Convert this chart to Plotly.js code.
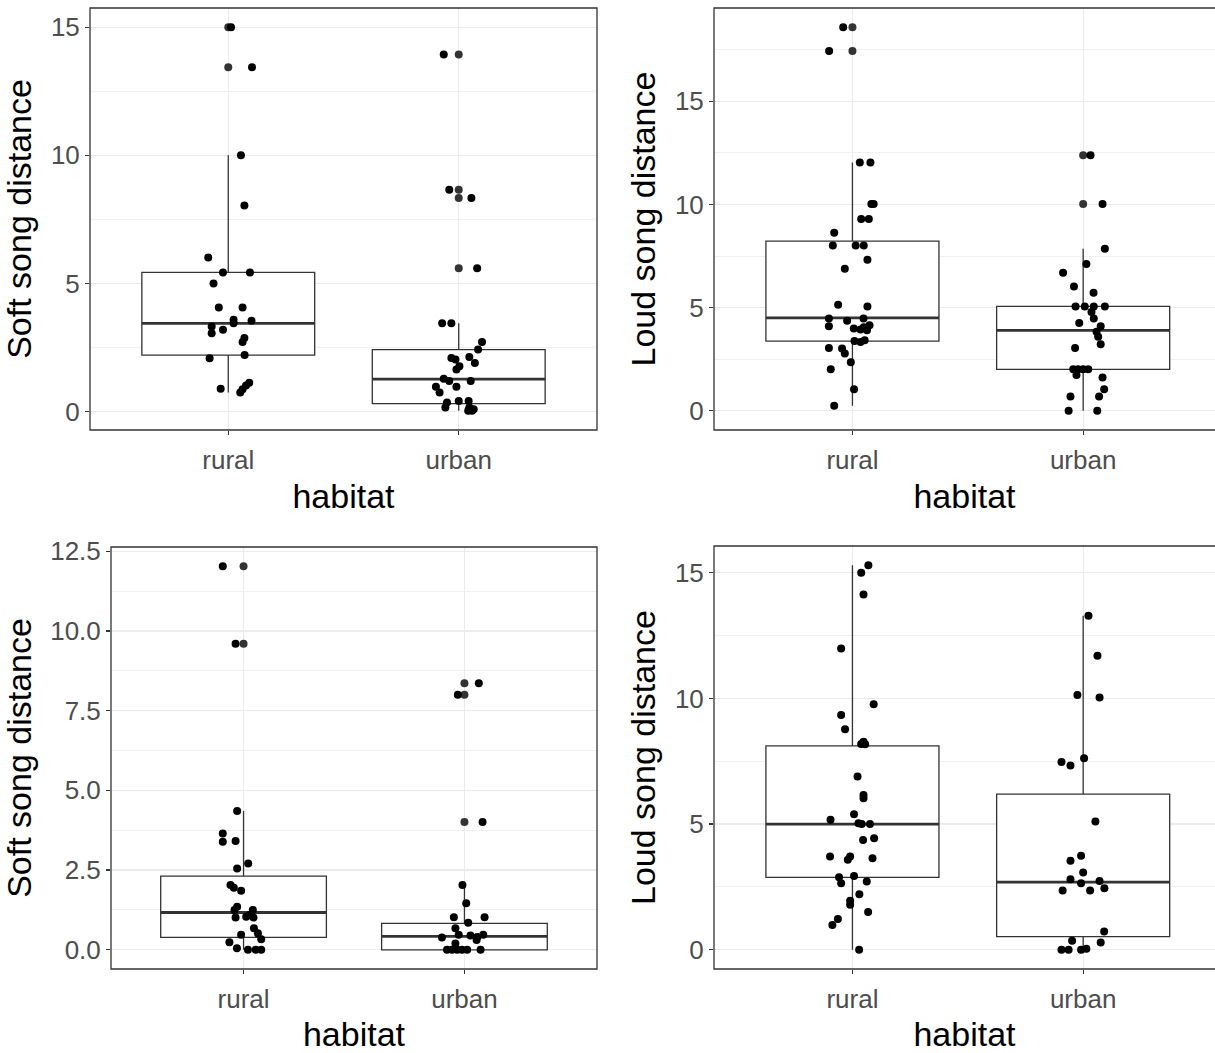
<!DOCTYPE html>
<html><head><meta charset="utf-8">
<script src="https://cdn.plot.ly/plotly-3.0.1.min.js"></script>
<style>html,body{margin:0;padding:0;background:#fff}#chart{width:1215px;height:1053px}</style>
</head><body><div id="chart"></div>
<script>
// ---------------- DATA ----------------
const habitats = ['rural', 'urban'];
const yTitles = ['Soft song distance', 'Loud song distance', 'Soft song distance', 'Loud song distance'];
const xTitle = 'habitat';

// Panel 1 (top-left) soft song distance
const p1RuralY = [15, 13.44, 10.0, 8.04, 6.01, 5.43, 5.43, 5.0, 4.06, 4.06, 3.58, 3.45, 3.54, 3.32, 3.19, 3.06, 2.87, 2.72, 2.21, 2.08, 0.89, 1.13, 1.02, 0.87, 0.74];
const p1RuralJit = [0.012, 0.103, 0.055, 0.070, -0.087, -0.023, 0.094, -0.064, -0.041, 0.062, 0.023, 0.023, 0.101, -0.072, -0.023, -0.072, 0.070, 0.062, 0.071, -0.081, -0.033, 0.091, 0.077, 0.062, 0.052];
const p1UrbanY = [13.93, 8.66, 8.33, 5.59, 3.45, 3.45, 2.72, 2.42, 2.13, 1.90, 2.09, 2.03, 1.77, 1.64, 1.28, 1.19, 0.97, 1.19, 0.97, 0.74, 0.35, 0.16, 0.41, 0.41, 0.16, 0.03, 0.03, 0.09];
const p1UrbanJit = [-0.065, -0.041, 0.055, 0.080, -0.072, -0.032, 0.101, 0.084, 0.046, 0.070, -0.032, -0.014, 0.003, -0.010, -0.065, -0.041, -0.010, 0.052, -0.099, -0.083, -0.051, -0.058, 0.0, 0.043, 0.046, 0.058, 0.041, 0.065];
// box stats: [lower whisker, q1, median, q3, upper whisker]
const p1RuralBox = [0.74, 2.20, 3.44, 5.43, 10.0];
const p1UrbanBox = [0.03, 0.31, 1.27, 2.42, 3.45];

// Panel 2 (top-right) loud song distance
const p2RuralY = [18.59, 17.43, 12.03, 12.03, 10.02, 10.02, 9.29, 9.29, 8.63, 8.01, 8.01, 8.01, 7.32, 6.88, 5.14, 5.06, 4.47, 4.36, 4.47, 4.10, 3.99, 3.94, 4.15, 3.91, 4.05, 3.38, 3.42, 3.34, 3.05, 3.02, 2.78, 2.35, 2.01, 1.05, 0.24];
const p2RuralJit = [-0.040, -0.101, 0.032, 0.078, 0.082, 0.092, 0.038, 0.071, -0.079, -0.085, 0.014, 0.049, 0.065, -0.033, -0.062, 0.065, -0.102, -0.023, 0.048, -0.102, 0.006, 0.035, 0.074, 0.063, 0.049, 0.009, 0.053, 0.035, -0.102, -0.045, -0.033, -0.007, -0.094, 0.007, -0.079];
const p2UrbanY = [12.38, 10.02, 7.85, 7.12, 6.69, 6.03, 5.72, 5.06, 5.06, 5.06, 5.06, 4.79, 4.47, 4.26, 4.10, 3.83, 3.59, 3.22, 3.05, 2.01, 2.01, 2.01, 2.01, 1.74, 1.62, 1.05, 0.69, 0.69, 0, 0];
const p2UrbanJit = [0.032, 0.084, 0.094, 0.014, -0.087, -0.040, 0.045, -0.033, 0.007, 0.046, 0.094, 0.036, 0.046, -0.017, 0.076, 0.058, 0.065, 0.076, -0.035, -0.043, -0.022, 0.0, 0.022, -0.029, 0.084, 0.091, 0.069, -0.055, -0.063, 0.061];
const p2RuralBox = [0.24, 3.38, 4.50, 8.22, 12.03];
const p2UrbanBox = [0, 2.01, 3.90, 5.06, 7.85];

// Panel 3 (bottom-left) soft song distance
const p3RuralY = [12.03, 9.60, 4.35, 3.65, 3.39, 3.41, 2.71, 2.55, 2.03, 1.95, 1.85, 1.35, 1.25, 1.01, 1.04, 1.25, 1.09, 1.01, 0.68, 0.52, 0.33, 0.47, 0.24, 0.05, 0, 0, 0];
const p3RuralJit = [-0.094, -0.036, -0.029, -0.094, -0.094, -0.036, 0.021, -0.029, -0.059, -0.044, -0.011, -0.029, -0.041, -0.036, 0.012, 0.042, 0.027, 0.045, 0.047, 0.065, 0.080, -0.011, -0.064, -0.030, 0.020, 0.055, 0.080];
const p3UrbanY = [8.36, 8.0, 4.01, 2.03, 1.46, 1.02, 1.02, 0.85, 0.39, 0.68, 0.47, 0.47, 0.45, 0.40, 0, 0, 0, 0, 0, 0, 0.2, 0.31];
const p3UrbanJit = [0.065, -0.030, 0.082, -0.009, 0.008, -0.048, 0.091, 0.017, -0.102, -0.041, -0.026, 0.085, 0.027, 0.058, -0.079, -0.056, -0.033, -0.011, 0.012, 0.073, -0.041, 0.055];
const p3RuralBox = [0, 0.39, 1.17, 2.31, 4.35];
const p3UrbanBox = [0, 0, 0.42, 0.83, 2.03];

// Panel 4 (bottom-right) loud song distance
const p4RuralY = [15.30, 15.0, 14.14, 11.99, 9.77, 9.34, 8.77, 8.28, 8.18, 8.19, 6.89, 6.16, 6.03, 5.39, 5.17, 5.03, 5.0, 5.0, 4.37, 4.44, 3.71, 3.71, 3.58, 3.64, 2.89, 2.94, 2.65, 2.72, 2.21, 1.95, 1.79, 1.50, 1.22, 0.99, 0];
const p4RuralJit = [0.069, 0.038, 0.048, -0.049, 0.092, -0.049, -0.032, 0.048, 0.055, 0.038, 0.022, 0.048, 0.048, 0.007, -0.095, 0.026, 0.076, 0.040, 0.046, 0.094, -0.097, -0.010, -0.020, 0.087, -0.058, 0.007, -0.049, 0.062, 0.030, -0.010, -0.010, 0.068, -0.063, -0.087, 0.029];
const p4UrbanY = [13.29, 11.70, 10.14, 10.04, 7.47, 7.33, 7.62, 5.10, 3.54, 3.74, 3.07, 2.81, 2.65, 2.74, 2.36, 2.36, 2.45, 0.73, 0.29, 0.36, 0, 0, 0, 0.04];
const p4UrbanJit = [0.023, 0.062, -0.025, 0.071, -0.094, -0.055, 0.004, 0.053, -0.055, -0.009, 0, -0.055, -0.009, 0.071, -0.089, 0.030, 0.092, 0.091, 0.076, -0.048, -0.094, -0.063, -0.009, 0.014];
const p4RuralBox = [0, 2.88, 5.00, 8.11, 15.30];
const p4UrbanBox = [0, 0.52, 2.69, 6.19, 13.29];

const yDticks = [5, 5, 2.5, 5];
const yFormats = ['d', 'd', '.1f', 'd'];

// ---------------- LAYOUT / STYLE ----------------
const W = 1215, H = 1053;
const FONT = 'Liberation Sans, Arial, Helvetica, sans-serif';
const DARK = '#333333';
const GRID = '#EBEBEB';
const BOXW = 0.75;
// panel pixel boxes: [left, right, top, bottom]; right panels extend past the page edge
const panelPx = [
  [90, 597, 8, 430],
  [714, 1221.6, 8, 430],
  [111, 597, 547, 969],
  [714, 1221.6, 546, 969]
];

const panels = [
  {rY: p1RuralY, rJ: p1RuralJit, uY: p1UrbanY, uJ: p1UrbanJit, rB: p1RuralBox, uB: p1UrbanBox},
  {rY: p2RuralY, rJ: p2RuralJit, uY: p2UrbanY, uJ: p2UrbanJit, rB: p2RuralBox, uB: p2UrbanBox},
  {rY: p3RuralY, rJ: p3RuralJit, uY: p3UrbanY, uJ: p3UrbanJit, rB: p3RuralBox, uB: p3UrbanBox},
  {rY: p4RuralY, rJ: p4RuralJit, uY: p4UrbanY, uJ: p4UrbanJit, rB: p4RuralBox, uB: p4UrbanBox}
];

const traces = [];
const layout = {
  width: W, height: H,
  margin: {l: 0, r: 0, t: 0, b: 0},
  paper_bgcolor: '#ffffff', plot_bgcolor: '#ffffff',
  showlegend: false,
  font: {family: FONT},
  shapes: []
};

panels.forEach((p, i) => {
  const n = i === 0 ? '' : String(i + 1);
  const xa = 'x' + n, ya = 'y' + n;
  const [L, R, T, B] = panelPx[i];
  const xRight = Math.min(R, W);
  const unit = (R - L) / 2.2;
  const xMax = 0.4 + (xRight - L) / unit;

  const allY = p.rY.concat(p.uY, p.rB, p.uB);
  const lo = Math.min(...allY), hi = Math.max(...allY);
  const pad = (hi - lo) * 0.05;

  // box
  traces.push({
    type: 'box', xaxis: xa, yaxis: ya,
    x: [1, 2],
    lowerfence: [p.rB[0], p.uB[0]],
    q1: [p.rB[1], p.uB[1]],
    median: [p.rB[2], p.uB[2]],
    q3: [p.rB[3], p.uB[3]],
    upperfence: [p.rB[4], p.uB[4]],
    width: BOXW, whiskerwidth: 0,
    fillcolor: '#ffffff',
    line: {color: DARK, width: 1.3},
    boxpoints: false, hoverinfo: 'skip'
  });
  // thicker median line
  traces.push({
    type: 'scatter', mode: 'lines', xaxis: xa, yaxis: ya,
    x: [1 - BOXW / 2, 1 + BOXW / 2, null, 2 - BOXW / 2, 2 + BOXW / 2],
    y: [p.rB[2], p.rB[2], null, p.uB[2], p.uB[2]],
    line: {color: DARK, width: 2.8}, hoverinfo: 'skip'
  });
  // outliers (boxplot, at category centre)
  const ox = [], oy = [];
  [[p.rY, p.rB, 1], [p.uY, p.uB, 2]].forEach(([vals, b, c]) => {
    vals.forEach(v => { if (v > b[4] + 1e-9 || v < b[0] - 1e-9) { ox.push(c); oy.push(v); } });
  });
  traces.push({
    type: 'scatter', mode: 'markers', xaxis: xa, yaxis: ya,
    x: ox, y: oy, marker: {color: DARK, size: 8}, hoverinfo: 'skip'
  });
  // jittered points
  const jx = p.rJ.map(j => 1 + j).concat(p.uJ.map(j => 2 + j));
  const jy = p.rY.concat(p.uY);
  traces.push({
    type: 'scatter', mode: 'markers', xaxis: xa, yaxis: ya,
    x: jx, y: jy, marker: {color: '#000000', size: 8}, hoverinfo: 'skip'
  });

  layout['xaxis' + n] = {
    domain: [L / W, xRight / W], anchor: ya,
    range: [0.4, xMax], tickvals: [1, 2], ticktext: habitats,
    showgrid: true, gridcolor: GRID, gridwidth: 1.2, zeroline: false, showline: false,
    ticks: 'outside', ticklen: 4, tickwidth: 1.3, tickcolor: DARK, ticklabelstandoff: 3,
    tickfont: {family: FONT, size: 26, color: '#4D4D4D'},
    title: {text: xTitle, font: {family: FONT, size: 34, color: '#000000'}, standoff: 9},
    automargin: false, fixedrange: true
  };
  layout['yaxis' + n] = {
    domain: [1 - B / H, 1 - T / H], anchor: xa,
    range: [lo - pad, hi + pad],
    tick0: 0, dtick: yDticks[i], tickformat: yFormats[i],
    showgrid: true, gridcolor: GRID, gridwidth: 1.2, zeroline: false, showline: false,
    minor: {tick0: 0, dtick: yDticks[i] / 2, showgrid: true, gridcolor: GRID, gridwidth: 0.7},
    ticks: 'outside', ticklen: 4, tickwidth: 1.3, tickcolor: DARK,
    tickfont: {family: FONT, size: 26, color: '#4D4D4D'},
    title: {text: yTitles[i], font: {family: FONT, size: 34, color: '#000000'}, standoff: 8},
    automargin: false, fixedrange: true
  };
  layout.shapes.push({
    type: 'rect', xref: 'paper', yref: 'paper',
    x0: L / W, x1: R / W, y0: 1 - B / H, y1: 1 - T / H,
    line: {color: DARK, width: 1.3}, fillcolor: 'rgba(0,0,0,0)', layer: 'above'
  });
});

Plotly.newPlot('chart', traces, layout, {staticPlot: true, displayModeBar: false});
</script>
</body></html>
